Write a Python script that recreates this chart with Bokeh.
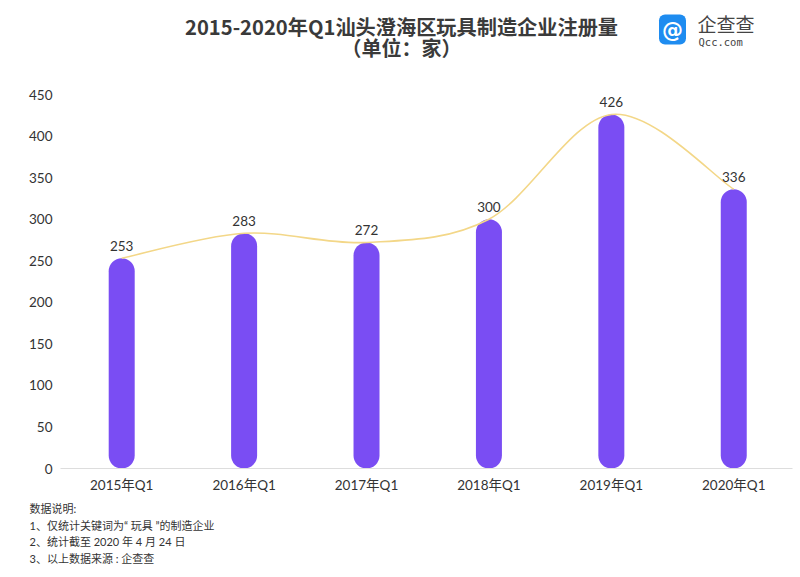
from bokeh.plotting import figure
from bokeh.layouts import column
from bokeh.models import ColumnDataSource, Label, FixedTicker, Range1d
from bokeh.core.properties import value
from bokeh.embed import file_html
from bokeh.resources import INLINE

categories = ["2015年Q1", "2016年Q1", "2017年Q1", "2018年Q1", "2019年Q1", "2020年Q1"]
values = [253, 283, 272, 300, 426, 336]
y_ticks = [0, 50, 100, 150, 200, 250, 300, 350, 400, 450]
title_lines = ["2015-2020年Q1汕头澄海区玩具制造企业注册量", "（单位：家）"]
notes = ["数据说明:", "1、仅统计关键词为“ 玩具 ”的制造企业",
         "2、统计截至 2020 年 4 月 24 日", "3、以上数据来源 : 企查查"]

FONT = "Lato, 'Noto Sans CJK SC'"
CJK = "'Noto Sans CJK SC'"
TXT = "#333333"
BAR = "#7a4df3"
LINE = "#f3d788"

W = 800
HEAD_H, MAIN_H, FOOT_H = 80, 418, 79
FL, FR, FT, FB = 60, 8, 14, 30


def blank(h):
    f = figure(width=W, height=h, output_backend="svg", toolbar_location=None,
               x_axis_type=None, y_axis_type=None, min_border=0,
               min_border_left=0, min_border_right=0, min_border_top=0,
               min_border_bottom=0, frame_align=False,
               x_range=Range1d(0, W), y_range=Range1d(0, h),
               outline_line_color=None)
    f.grid.visible = False
    f.background_fill_color = "white"
    f.border_fill_color = "white"
    return f


def lab(f, top, h, text, px, py, size, color=TXT, style="normal", align="left",
        base="middle", font=CJK, **kw):
    f.add_layout(Label(x=px, y=top + h - py, x_units="screen", y_units="screen",
                       text=text, text_font=font, text_font_size=size,
                       text_color=color, text_font_style=style, text_align=align,
                       text_baseline=base, **kw))


# ---------- header ----------
head = blank(HEAD_H)
lab(head, 0, HEAD_H, title_lines[0], 401, 26, "20.2px", color="#3a3a3a",
    style="bold", align="center")
lab(head, 0, HEAD_H, title_lines[1], 401, 47, "20px", color="#3a3a3a",
    style="bold", align="center")
lab(head, 0, HEAD_H, "@", 672, 29, "21px", color="white", style="bold",
    align="center", font="'DejaVu Sans'", background_fill_color="#1e8cf0",
    padding=3, border_radius=6)
lab(head, 0, HEAD_H, "企查查", 697, 23, "19px", color="#444444")
lab(head, 0, HEAD_H, "Qcc.com", 698, 41, "10.5px", color="#444444",
    font="'DejaVu Sans Mono'")

# ---------- main chart ----------
p = figure(width=W, height=MAIN_H, output_backend="svg", toolbar_location=None,
           x_range=Range1d(-0.5, 5.48), y_range=Range1d(0, 450),
           min_border_left=FL, min_border_right=FR, min_border_top=FT,
           min_border_bottom=FB, outline_line_color=None, frame_align=False)
p.background_fill_color = "white"
p.border_fill_color = "white"
p.grid.visible = False

xs = list(range(len(categories)))

p.xaxis.ticker = FixedTicker(ticks=xs)
p.xaxis.major_label_overrides = {i: c for i, c in enumerate(categories)}
p.xaxis.axis_line_color = "#dddddd"
p.xaxis.major_tick_line_color = None
p.xaxis.minor_tick_line_color = None
p.xaxis.major_tick_out = 0
p.xaxis.major_label_text_font = FONT
p.xaxis.major_label_text_font_size = "13.5px"
p.xaxis.major_label_text_color = TXT
p.xaxis.major_label_standoff = 8

p.yaxis.ticker = FixedTicker(ticks=y_ticks)
p.yaxis.axis_line_color = None
p.yaxis.major_tick_line_color = None
p.yaxis.minor_tick_line_color = None
p.yaxis.major_tick_out = 0
p.yaxis.major_label_text_font = FONT
p.yaxis.major_label_text_font_size = "13.5px"
p.yaxis.major_label_text_color = TXT
p.yaxis.major_label_standoff = 8

frame_h = MAIN_H - FT - FB
bar_px = 26
r_units = (bar_px / 2) * 450 / frame_h
src = ColumnDataSource(dict(x=xs, v=values,
                            y0=[r_units] * len(values),
                            y1=[v - r_units for v in values],
                            lbl=[str(v) for v in values]))
p.segment(x0="x", x1="x", y0="y0", y1="y1", source=src,
          line_width=bar_px, line_color=BAR, line_cap="round")

t = 1 / 6
n = len(values)
bx0, by0, bx1, by1, cx0, cy0, cx1, cy1 = [], [], [], [], [], [], [], []
for i in range(n - 1):
    pm = (xs[max(i - 1, 0)], values[max(i - 1, 0)])
    p0 = (xs[i], values[i])
    p1 = (xs[i + 1], values[i + 1])
    p2 = (xs[min(i + 2, n - 1)], values[min(i + 2, n - 1)])
    bx0.append(p0[0]); by0.append(p0[1])
    bx1.append(p1[0]); by1.append(p1[1])
    cx0.append(p0[0] + (p1[0] - pm[0]) * t); cy0.append(p0[1] + (p1[1] - pm[1]) * t)
    cx1.append(p1[0] - (p2[0] - p0[0]) * t); cy1.append(p1[1] - (p2[1] - p0[1]) * t)
p.bezier(x0=bx0, y0=by0, x1=bx1, y1=by1, cx0=cx0, cy0=cy0, cx1=cx1, cy1=cy1,
         line_color=LINE, line_width=1.6)

p.text(x="x", y="v", text="lbl", source=src, text_align="center",
       text_baseline="bottom", y_offset=-7, text_font=value(FONT),
       text_font_size="13.5px", text_color=TXT)

# ---------- footer ----------
FOOT_TOP = HEAD_H + MAIN_H
foot = blank(FOOT_H)
for i, s in enumerate(notes):
    lab(foot, FOOT_TOP, FOOT_H, s, 29, 508 + i * 16.7, "11px", font=FONT)

layout = column(head, p, foot, spacing=0)
open("out.html", "w").write(file_html(layout, INLINE))
